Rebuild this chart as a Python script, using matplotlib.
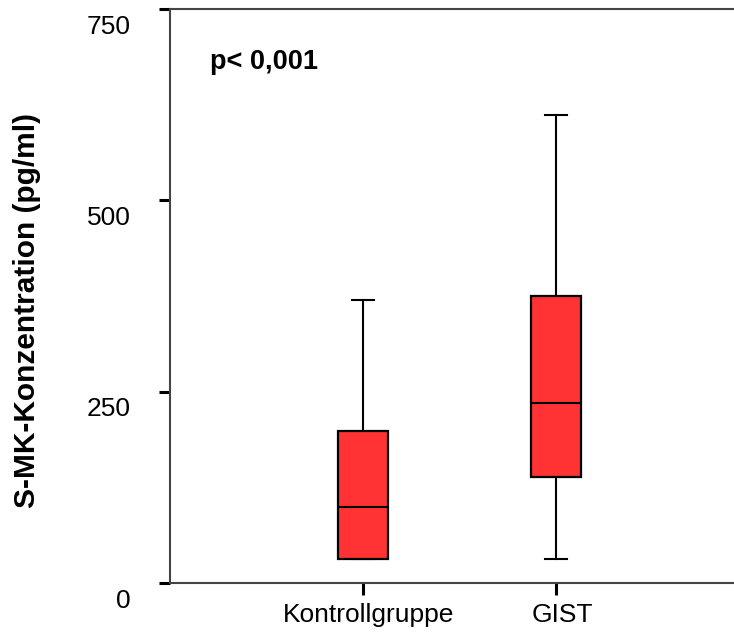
import matplotlib
matplotlib.use("Agg")
import matplotlib.pyplot as plt
from matplotlib.transforms import ScaledTranslation

plt.rcParams['font.family'] = ['Liberation Sans', 'DejaVu Sans']

categories = ["Kontrollgruppe", "GIST"]
q1 = [31, 138]
median = [99, 235]
q3 = [198, 375]
whisker_low = [31, 31]
whisker_high = [370, 612]
y_ticks = [0, 250, 500, 750]
y_label = "S-MK-Konzentration (pg/ml)"
annotation = "p< 0,001"

W, H = 734, 639
fig = plt.figure(figsize=(W / 100, H / 100), dpi=100)
ax = fig.add_axes([170 / W, (H - 583) / H, (749 - 170) / W, (583 - 9) / H])

stats = []
for i, c in enumerate(categories):
    stats.append(dict(label=c, q1=q1[i], med=median[i], q3=q3[i],
                      whislo=whisker_low[i], whishi=whisker_high[i], fliers=[]))

ax.bxp(stats, positions=[1, 2], widths=0.26, capwidths=0.114,
       patch_artist=True, showfliers=False,
       boxprops=dict(facecolor='#FF3333', edgecolor='black', linewidth=1.6, zorder=3),
       medianprops=dict(color='black', linewidth=1.5, zorder=4),
       whiskerprops=dict(color='black', linewidth=1.5, zorder=2),
       capprops=dict(color='black', linewidth=1.5, zorder=2))

ax.set_xlim(0, 3)
ax.set_ylim(0, 750)
ax.set_yticks(y_ticks)
ax.set_yticklabels([str(v) for v in y_ticks])
ax.set_xticks([1, 2])
ax.set_xticklabels(categories)

for s in ['left', 'top', 'bottom']:
    ax.spines[s].set_color('#444444')
    ax.spines[s].set_linewidth(1.5)
ax.spines['right'].set_visible(False)

ax.tick_params(axis='y', direction='out', length=8, width=2.2, color='black',
               labelsize=19, pad=20)
ax.tick_params(axis='x', direction='out', length=8.5, width=2.2, color='black',
               labelsize=19, pad=6)

for t in ax.yaxis.get_major_ticks():
    t.label1.set_transform(t.label1.get_transform() + ScaledTranslation(0, -15 / 100, fig.dpi_scale_trans))
for t in ax.xaxis.get_major_ticks():
    t.label1.set_transform(t.label1.get_transform() + ScaledTranslation(6 / 100, 0, fig.dpi_scale_trans))

fig.text(27 / W, 1 - 310 / H, y_label, rotation=90, fontsize=21.5, fontweight='bold',
         ha='center', va='center')
fig.text(210 / W, 1 - 69 / H, annotation, fontsize=19.5, fontweight='bold',
         ha='left', va='baseline')

fig.savefig("out.png", dpi=100)
